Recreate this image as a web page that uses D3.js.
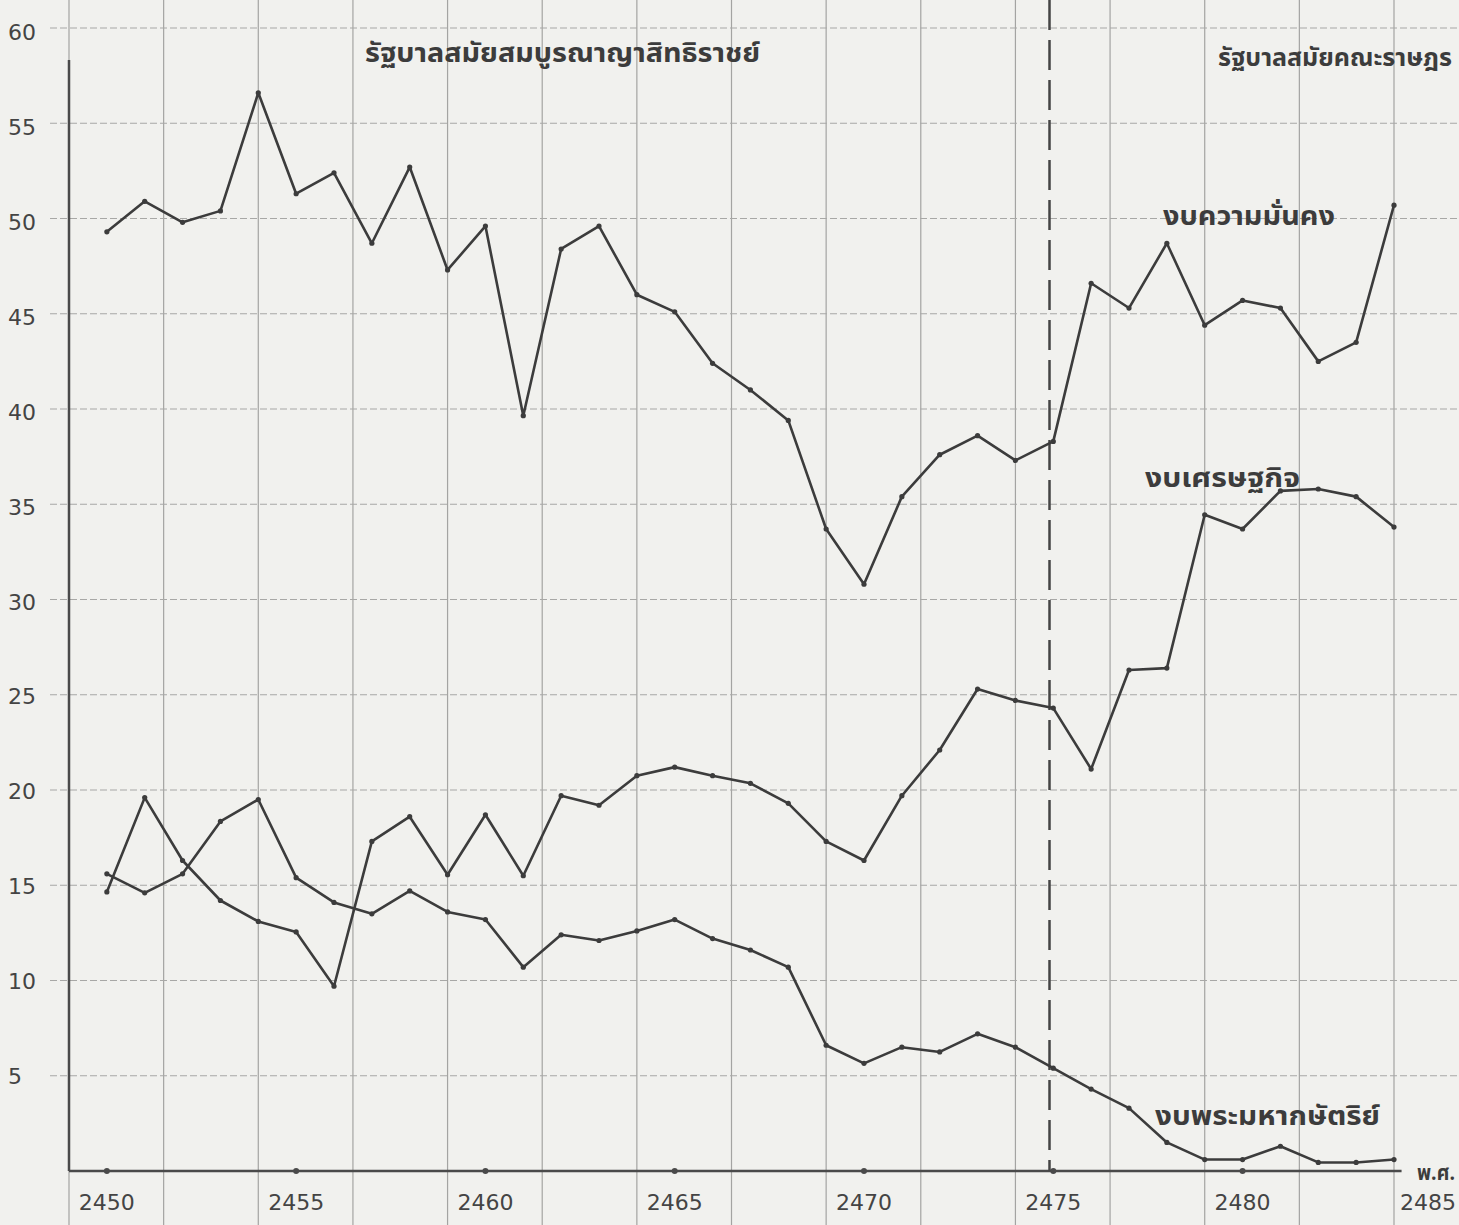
<!DOCTYPE html>
<html>
<head>
<meta charset="utf-8">
<script src="https://cdn.jsdelivr.net/npm/d3@7"></script>
<style>
  body { margin: 0; background: #f1f1ee; }
  svg { display: block; }
</style>
</head>
<body>
<div id="chart"></div>
<script>
var years = [2450, 2451, 2452, 2453, 2454, 2455, 2456, 2457, 2458, 2459,
  2460, 2461, 2462, 2463, 2464, 2465, 2466, 2467, 2468, 2469,
  2470, 2471, 2472, 2473, 2474, 2475, 2476, 2477, 2478, 2479,
  2480, 2481, 2482, 2483, 2484];

// งบความมั่นคง
var security = [49.3, 50.9, 49.8, 50.4, 56.6, 51.3, 52.4, 48.7, 52.7, 47.3,
  49.6, 39.65, 48.4, 49.6, 46.0, 45.1, 42.4, 41.0, 39.4, 33.7,
  30.8, 35.4, 37.6, 38.6, 37.3, 38.3, 46.6, 45.3, 48.7, 44.4,
  45.7, 45.3, 42.5, 43.5, 50.7];

// งบเศรษฐกิจ
var economic = [14.65, 19.6, 16.3, 14.2, 13.1, 12.55, 9.7, 17.3, 18.6, 15.55,
  18.7, 15.5, 19.7, 19.2, 20.75, 21.2, 20.75, 20.35, 19.3, 17.3,
  16.3, 19.7, 22.1, 25.3, 24.7, 24.3, 21.1, 26.3, 26.4, 34.45,
  33.7, 35.7, 35.8, 35.4, 33.8];

// งบพระมหากษัตริย์
var royal = [15.6, 14.6, 15.6, 18.35, 19.5, 15.4, 14.1, 13.5, 14.7, 13.6,
  13.2, 10.7, 12.4, 12.1, 12.6, 13.2, 12.2, 11.6, 10.7, 6.6,
  5.65, 6.5, 6.25, 7.2, 6.5, 5.4, 4.3, 3.3, 1.5, 0.6,
  0.6, 1.3, 0.45, 0.45, 0.6];

var yTicks = [5, 10, 15, 20, 25, 30, 35, 40, 45, 50, 55, 60];
var xTicks = [2450, 2455, 2460, 2465, 2470, 2475, 2480, 2485];
var xGrid = [2449, 2451.5, 2454, 2456.5, 2459, 2461.5, 2464, 2466.5, 2469,
  2471.5, 2474, 2476.5, 2479, 2481.5, 2484, 2486.5];
var splitYear = 2474.9;

var periodLabels = ["รัฐบาลสมัยสมบูรณาญาสิทธิราชย์", "รัฐบาลสมัยคณะราษฎร"];
var seriesLabels = ["งบความมั่นคง", "งบเศรษฐกิจ", "งบพระมหากษัตริย์"];

var width = 1459, height = 1225;
var thai = "'Noto Sans Thai', 'Noto Sans', 'DejaVu Sans', sans-serif";
var ink = "#3c3c3c";

var svg = d3.select("#chart")
.append("svg")
  .attr("width", width)
  .attr("height", height);

svg.append("rect")
  .attr("width", width).attr("height", height)
  .attr("fill", "#f1f1ee");

var x = d3.scaleLinear()
  .domain([2449, 2484])
  .range([69, 1394]);

var y = d3.scaleLinear()
  .domain([0, 60])
  .range([1171, 28]);

// graph paper
svg.selectAll("vgrid")
  .data(xGrid).enter()
  .append("line")
  .attr("x1", function(d) { return x(d); })
  .attr("x2", function(d) { return x(d); })
  .attr("y1", 0).attr("y2", height)
  .style("stroke", "#a4a4a2")
  .style("stroke-width", 1.2);

svg.selectAll("hgrid")
  .data(yTicks).enter()
  .append("line")
  .attr("x1", 50).attr("x2", width)
  .attr("y1", function(d) { return y(d); })
  .attr("y2", function(d) { return y(d); })
  .style("stroke", "#a8a8a6")
  .style("stroke-width", 1.2)
  .style("stroke-dasharray", "7,3");

// axes
svg.append("line")
  .attr("x1", x(2449)).attr("x2", x(2449))
  .attr("y1", 60).attr("y2", y(0))
  .style("stroke", "#4a4a4a").style("stroke-width", 2.5);

svg.append("line")
  .attr("x1", x(2449)).attr("x2", x(2484.2))
  .attr("y1", y(0)).attr("y2", y(0))
  .style("stroke", "#4a4a4a").style("stroke-width", 2.5);

svg.selectAll("xdot")
  .data(xTicks.filter(function(d) { return d <= 2484; })).enter()
  .append("circle")
  .attr("cx", function(d) { return x(d); })
  .attr("cy", y(0))
  .attr("r", 3)
  .style("fill", "#4a4a4a");

svg.selectAll("ylab")
  .data(yTicks).enter()
  .append("text")
  .attr("x", 8)
  .attr("y", function(d) { return y(d) + 8 + (d - 5) * 0.08; })
  .text(function(d) { return d; })
  .style("font-family", "'DejaVu Sans', sans-serif")
  .style("font-size", "22px")
  .style("fill", "#444");

svg.selectAll("xlab")
  .data(xTicks).enter()
  .append("text")
  .attr("x", function(d) { return Math.min(x(d), 1428); })
  .attr("y", 1210)
  .style("text-anchor", "middle")
  .text(function(d) { return d; })
  .style("font-family", "'DejaVu Sans', sans-serif")
  .style("font-size", "22px")
  .style("fill", "#444");

svg.append("text")
  .attr("x", 1417).attr("y", 1180)
  .attr("textLength", 38)
  .attr("lengthAdjust", "spacingAndGlyphs")
  .text("พ.ศ.")
  .style("font-family", thai)
  .style("font-size", "22px")
  .style("font-weight", "bold")
  .style("fill", ink);

// dashed split between the two periods
svg.append("line")
  .attr("x1", x(splitYear)).attr("x2", x(splitYear))
  .attr("y1", 0).attr("y2", y(0))
  .style("stroke", "#444")
  .style("stroke-width", 2.5)
  .style("stroke-dasharray", "30,10");

// series
var line = d3.line()
  .x(function(d, i) { return x(years[i]); })
  .y(function(d) { return y(d); });

[security, economic, royal].forEach(function(s) {
  svg.append("path")
    .datum(s)
    .attr("d", line)
    .style("fill", "none")
    .style("stroke", ink)
    .style("stroke-width", 2.6)
    .style("stroke-linejoin", "round");

  svg.selectAll(null)
    .data(s).enter()
    .append("circle")
    .attr("cx", function(d, i) { return x(years[i]); })
    .attr("cy", function(d) { return y(d); })
    .attr("r", 2.6)
    .style("fill", ink);
});

// labels
var labels = [
  {t: periodLabels[0], x: 365, y: 62, w: 395, s: 26},
  {t: periodLabels[1], x: 1218, y: 66, w: 234, s: 24},
  {t: seriesLabels[0], x: 1163, y: 225, w: 172, s: 26},
  {t: seriesLabels[1], x: 1145, y: 487, w: 155, s: 26},
  {t: seriesLabels[2], x: 1155, y: 1125, w: 225, s: 26}
];

svg.selectAll("lab")
  .data(labels).enter()
  .append("text")
  .attr("x", function(d) { return d.x; })
  .attr("y", function(d) { return d.y; })
  .attr("textLength", function(d) { return d.w; })
  .attr("lengthAdjust", "spacingAndGlyphs")
  .text(function(d) { return d.t; })
  .style("font-family", thai)
  .style("font-size", function(d) { return d.s + "px"; })
  .style("font-weight", "bold")
  .style("fill", ink);
</script>
</body>
</html>
